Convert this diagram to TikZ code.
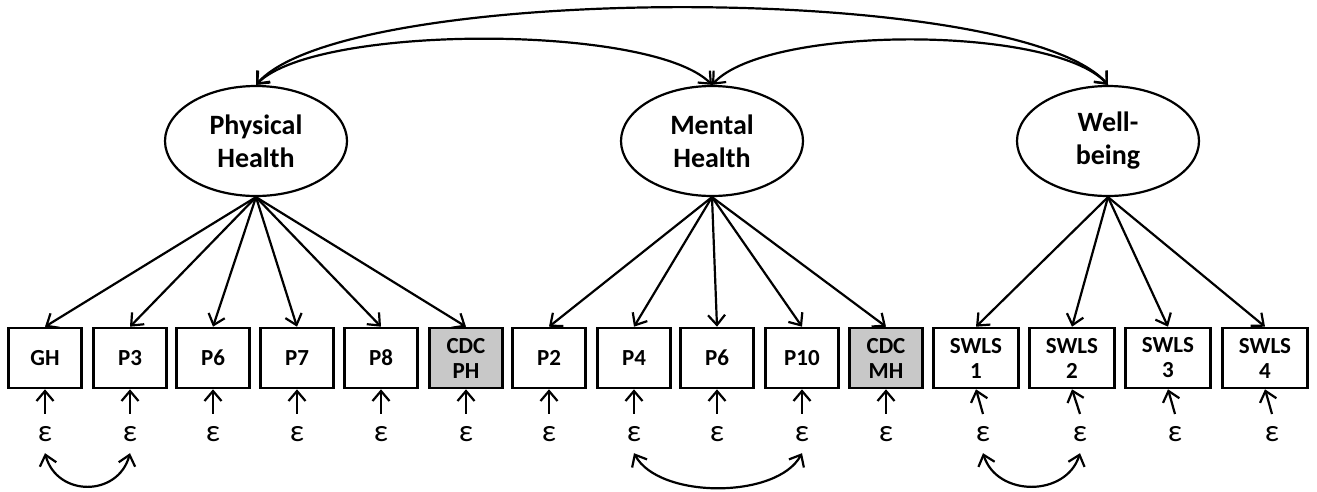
\documentclass[tikz,border=0pt]{standalone}
\usepackage{fontspec}
\setmainfont{Carlito}
\usetikzlibrary{arrows.meta,shapes.geometric}
\definecolor{cdcgray}{RGB}{200,200,200}
\begin{document}
\begin{tikzpicture}[x=1pt,y=-1pt,
  lat/.style={ellipse,draw,line width=2.2pt,minimum width=182pt,minimum height=110pt,inner sep=0pt,font=\fontsize{28}{33}\selectfont\bfseries,align=center},
  obs/.style={rectangle,draw,line width=2.6pt,minimum width=73pt,minimum height=60pt,inner sep=0pt,font=\fontsize{23}{25}\selectfont\bfseries,align=center},
  sw/.style={obs,minimum width=85pt},
  cdc/.style={obs,fill=cdcgray},
  eps/.style={inner sep=0pt,outer sep=12pt,font=\fontsize{31}{31}\selectfont,anchor=base},
  arr/.style={-{Straight Barb[length=10pt,width=17pt]},line width=2.2pt},
  dbl/.style={{Straight Barb[length=10pt,width=17pt]}-{Straight Barb[length=10pt,width=17pt]},line width=2.2pt}
]
\useasboundingbox (0,0) rectangle (1317,491);
% latent variables
\node[lat] (PH) at (256,141) {Physical\\Health};
\node[lat] (MH) at (712,141) {Mental\\Health};
\node[lat] (WB) at (1108,141) {Well-\\being};
% indicators
\node[obs] (GH) at (45,358) {GH};
\node[obs] (P3) at (130,358) {P3};
\node[obs] (P6a) at (213,358) {P6};
\node[obs] (P7) at (297,358) {P7};
\node[obs] (P8) at (381,358) {P8};
\node[cdc] (CPH) at (466,358) {CDC\\PH};
\node[obs] (P2) at (549,358) {P2};
\node[obs] (P4) at (634,358) {P4};
\node[obs] (P6b) at (717,358) {P6};
\node[obs] (P10) at (802,358) {P10};
\node[cdc] (CMH) at (886,358) {CDC\\MH};
\node[sw] (S1) at (976,358) {SWLS\\1};
\node[sw] (S2) at (1072,358) {SWLS\\2};
\node[sw] (S3) at (1168,358) {SWLS\\3};
\node[sw] (S4) at (1265,358) {SWLS\\4};
% errors
\node[eps] (eGH) at (45,441) {ε};
\node[eps] (eP3) at (130,441) {ε};
\node[eps] (eP6a) at (213,441) {ε};
\node[eps] (eP7) at (297,441) {ε};
\node[eps] (eP8) at (381,441) {ε};
\node[eps] (eCPH) at (466,441) {ε};
\node[eps] (eP2) at (549,441) {ε};
\node[eps] (eP4) at (634,441) {ε};
\node[eps] (eP6b) at (717,441) {ε};
\node[eps] (eP10) at (802,441) {ε};
\node[eps] (eCMH) at (886,441) {ε};
\node[eps] (eS1) at (983,441) {ε};
\node[eps] (eS2) at (1080,441) {ε};
\node[eps] (eS3) at (1175,441) {ε};
\node[eps] (eS4) at (1272,441) {ε};
% loadings
\foreach \b in {GH,P3,P6a,P7,P8,CPH} \draw[arr] (PH.south) -- (\b.north);
\foreach \b in {P2,P4,P6b,P10,CMH} \draw[arr] (MH.south) -- (\b.north);
\foreach \b in {S1,S2,S3,S4} \draw[arr] (WB.south) -- (\b.north);
% error arrows
\foreach \b in {GH,P3,P6a,P7,P8,CPH,P2,P4,P6b,P10,CMH,S1,S2,S3,S4} \draw[arr] (e\b.north) -- (\b.south);
% latent covariances
\draw[dbl] (PH.north) .. controls +(60,-61) and +(-60,-61) .. (MH.north);
\draw[dbl] (PH.north) .. controls +(90,-103) and +(-90,-103) .. (WB.north);
\draw[dbl] (MH.north) .. controls +(55,-60) and +(-55,-60) .. (WB.north);
% error covariances
\draw[dbl] (eGH.south) .. controls +(12,44) and +(-12,44) .. (eP3.south);
\draw[dbl] (eP4.south) .. controls +(25,46) and +(-25,46) .. (eP10.south);
\draw[dbl] (eS1.south) .. controls +(14,44) and +(-14,44) .. (eS2.south);
\end{tikzpicture}
\end{document}
